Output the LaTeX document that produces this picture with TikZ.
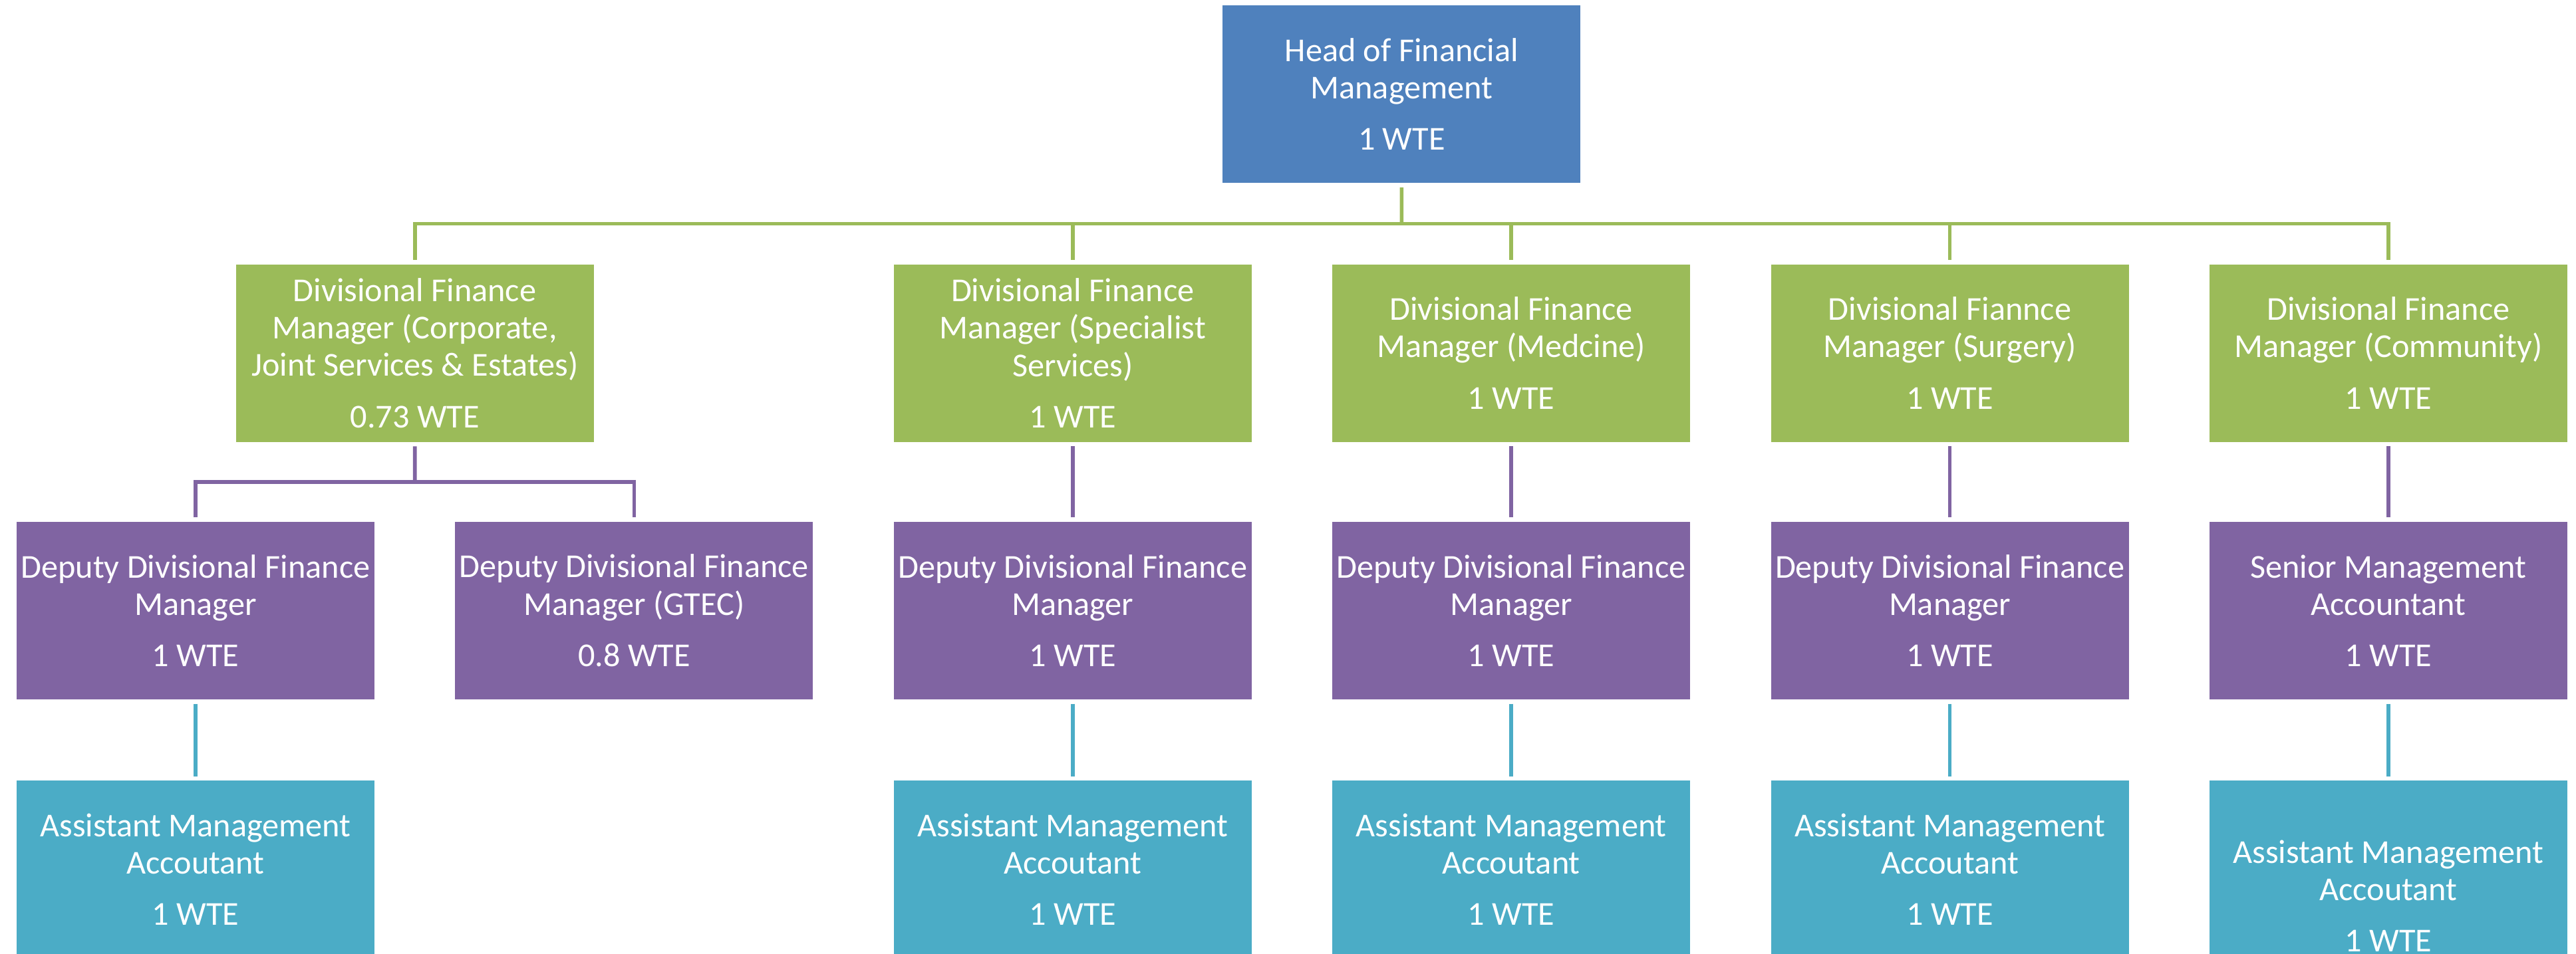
\documentclass[tikz,border=0pt]{standalone}
\usepackage{fontspec}
\setmainfont{Carlito}
\usetikzlibrary{positioning,calc}
\definecolor{headblue}{HTML}{4F81BD}
\definecolor{divgreen}{HTML}{9BBB59}
\definecolor{deppurple}{HTML}{8064A2}
\definecolor{asscyan}{HTML}{4BACC6}
\begin{document}
\begin{tikzpicture}[
        box/.style={rectangle, minimum width=5.38cm, minimum height=2.67cm, inner sep=0pt,
            align=center, text=white, font=\fontsize{14.3}{16}\selectfont},
        headbox/.style={box, fill=headblue},
        divbox/.style={box, fill=divgreen},
        depbox/.style={box, fill=deppurple},
        assbox/.style={box, fill=asscyan},
        link/.style={line width=1.6pt, shorten <=0.06cm}
    ]
                \useasboundingbox (0,0) rectangle (38.73,-14.35);

                % deputies
                \node[depbox] (P1) at (2.94,-9.185) {Deputy Divisional Finance\\Manager\\[6pt]1 WTE};
                \node[depbox, right=1.2cm of P1] (P2) {Deputy Divisional Finance\\Manager (GTEC)\\[6pt]0.8 WTE};
                \node[depbox, right=1.2cm of P2] (P3) {Deputy Divisional Finance\\Manager\\[6pt]1 WTE};
                \node[depbox, right=1.2cm of P3] (P4) {Deputy Divisional Finance\\Manager\\[6pt]1 WTE};
                \node[depbox, right=1.2cm of P4] (P5) {Deputy Divisional Finance\\Manager\\[6pt]1 WTE};
                \node[depbox, right=1.2cm of P5] (P6) {Senior Management\\Accountant\\[6pt]1 WTE};

                % divisional managers
                \node[divbox, anchor=south] (G1) at ($(P1.north)!0.5!(P2.north)+(0,1.19)$) {Divisional Finance\\Manager (Corporate,\\Joint Services \& Estates)\\[6pt]0.73 WTE};
                \node[divbox, above=1.19cm of P3] (G2) {Divisional Finance\\Manager (Specialist\\Services)\\[6pt]1 WTE};
                \node[divbox, above=1.19cm of P4] (G3) {Divisional Finance\\Manager (Medcine)\\[6pt]1 WTE};
                \node[divbox, above=1.19cm of P5] (G4) {Divisional Fiannce\\Manager (Surgery)\\[6pt]1 WTE};
                \node[divbox, above=1.19cm of P6] (G5) {Divisional Finance\\Manager (Community)\\[6pt]1 WTE};

                % head
                \node[headbox, anchor=south] (H) at ($(G1.north)!0.5!(G5.north)+(0,1.21)$) {Head of Financial\\Management\\[6pt]1 WTE};

                % assistants
                \node[assbox, below=1.21cm of P1] (C1) {Assistant Management\\Accoutant\\[6pt]1 WTE};
                \node[assbox, below=1.21cm of P3] (C3) {Assistant Management\\Accoutant\\[6pt]1 WTE};
                \node[assbox, below=1.21cm of P4] (C4) {Assistant Management\\Accoutant\\[6pt]1 WTE};
                \node[assbox, below=1.21cm of P5] (C5) {Assistant Management\\Accoutant\\[6pt]1 WTE};
                \node[assbox, minimum height=3.47cm, below=1.21cm of P6] (C6) {Assistant Management\\Accoutant\\[6pt]1 WTE};

                % head to divisions
                \coordinate (gbar) at ($(H.south)!0.5!(H.south |- G1.north)$);
                \draw[link, divgreen] (H.south) -- (gbar);
                \draw[link, divgreen] (G1.north) |- (gbar);
                \draw[link, divgreen] (G2.north) |- (gbar);
                \draw[link, divgreen] (G3.north) |- (gbar);
                \draw[link, divgreen] (G4.north) |- (gbar);
                \draw[link, divgreen] (G5.north) |- (gbar);

                % divisions to deputies
                \coordinate (pbar) at ($(G1.south)!0.5!(G1.south |- P1.north)$);
                \draw[link, deppurple] (G1.south) -- (pbar);
                \draw[link, deppurple] (P1.north) |- (pbar);
                \draw[link, deppurple] (P2.north) |- (pbar);
                \draw[link, deppurple, shorten >=0.06cm] (G2) -- (P3);
                \draw[link, deppurple, shorten >=0.06cm] (G3) -- (P4);
                \draw[link, deppurple, shorten >=0.06cm] (G4) -- (P5);
                \draw[link, deppurple, shorten >=0.06cm] (G5) -- (P6);

                % deputies to assistants
                \draw[link, asscyan, shorten >=0.06cm] (P1) -- (C1);
                \draw[link, asscyan, shorten >=0.06cm] (P3) -- (C3);
                \draw[link, asscyan, shorten >=0.06cm] (P4) -- (C4);
                \draw[link, asscyan, shorten >=0.06cm] (P5) -- (C5);
                \draw[link, asscyan, shorten >=0.06cm] (P6) -- (C6);
\end{tikzpicture}
\end{document}
